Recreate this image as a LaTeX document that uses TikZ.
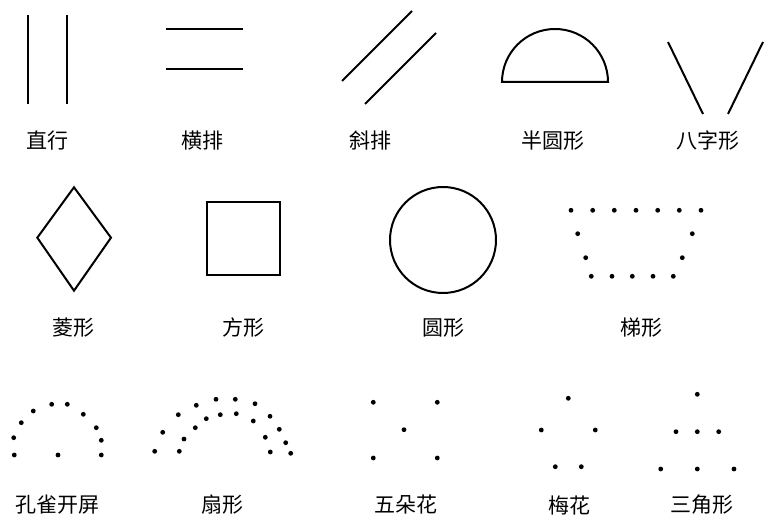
\documentclass[tikz,border=0pt]{standalone}
\usepackage{fontspec}
\newfontfamily\cjk{Noto Sans CJK SC}
\begin{document}
\begin{tikzpicture}[x=1pt,y=1pt,
  figline/.style={line width=2pt,black},
  lbl/.style={font=\cjk\fontsize{21}{24}\selectfont,inner sep=0pt,anchor=center},
  pt/.style={fill=black,draw=none}]
\useasboundingbox (0,0) rectangle (766,525);
\fill[white] (0,0) rectangle (766,525);
% Row 1
\draw[figline] (27.8,510) -- (27.8,421);
\draw[figline] (66.9,510) -- (66.9,421);
\node[lbl] (zhihang) at (47.5,384) {直行};
\draw[figline] (166,496) -- (243,496);
\draw[figline] (166,456) -- (243,456);
\node[lbl] (hengpai) at (202,384) {横排};
\draw[figline] (342,444) -- (412,514);
\draw[figline] (365,421) -- (436,492);
\node[lbl] (xiepai) at (370,384) {斜排};
\draw[figline] (502,443) arc[start angle=180,end angle=0,radius=53] -- cycle;
\node[lbl] (banyuan) at (553,384) {半圆形};
\draw[figline] (668,483) -- (703,411);
\draw[figline] (763,483) -- (728,411);
\node[lbl] (bazi) at (708,384) {八字形};
% Row 2
\draw[figline] (74,337.7) -- (37.3,287.3) -- (74,234.3) -- (111,287.3) -- cycle;
\node[lbl] (lingxing) at (73,197) {菱形};
\draw[figline] (207.3,250) rectangle (280,323.3);
\node[lbl] (fangxing) at (243,197) {方形};
\draw[figline] (443,285) circle[radius=53];
\node[lbl] (yuanxing) at (443,197) {圆形};
\foreach \x/\y in {571/314.7,592.7/314.7,614.3/314.7,636/314.7,657.7/314.7,679.3/314.7,701/314.7,
  577.7/291.3,692.3/291.3,585.7/267.3,682.3/267.3,
  591.3/248.7,612/248.7,632.3/248.7,653/248.7,673.3/248.7}
  \fill[pt] (\x,\y) circle[radius=2.4];
\node[lbl] (tixing) at (641,197) {梯形};
% Row 3
\foreach \x/\y in {51.7/120.7,67.3/120.7,33.3/114,83.3/110.7,21.3/102.3,96.3/97.3,13.7/87.3,101.3/84.7,14.3/70,58/70,101.3/70}
  \fill[pt] (\x,\y) circle[radius=2.4];
\node[lbl] (kongque) at (57.5,20) {孔雀开屏};
\foreach \x/\y in {154.7/73.7,162.7/92.7,178.3/110.3,196.3/119.7,216/125.7,235.3/125.7,255/121.3,270/108.7,279.3/95.7,285.7/82.3,290.7/71.7,
  179.3/73.7,184/86,195.3/97.3,206.3/106.3,220.3/110.3,236.3/111.3,253.3/104,265.3/87.7,270.3/73}
  \fill[pt] (\x,\y) circle[radius=2.4];
\node[lbl] (shanxing) at (222.5,20) {扇形};
\foreach \x/\y in {373.3/122.7,437.3/122.7,404/95.3,373.3/67,437.3/67}
  \fill[pt] (\x,\y) circle[radius=2.4];
\node[lbl] (wuduo) at (406,20) {五朵花};
\foreach \x/\y in {568.3/126.7,541.3/95,595.3/95,555.3/58.3,581.3/58.3}
  \fill[pt] (\x,\y) circle[radius=2.4];
\node[lbl] (meihua) at (569.5,20) {梅花};
\foreach \x/\y in {697.3/130.7,676/93.3,697.3/93.3,718.7/93.3,660.7/56,697.3/56,734/56}
  \fill[pt] (\x,\y) circle[radius=2.4];
\node[lbl] (sanjiao) at (701.5,20) {三角形};
\end{tikzpicture}
\end{document}
